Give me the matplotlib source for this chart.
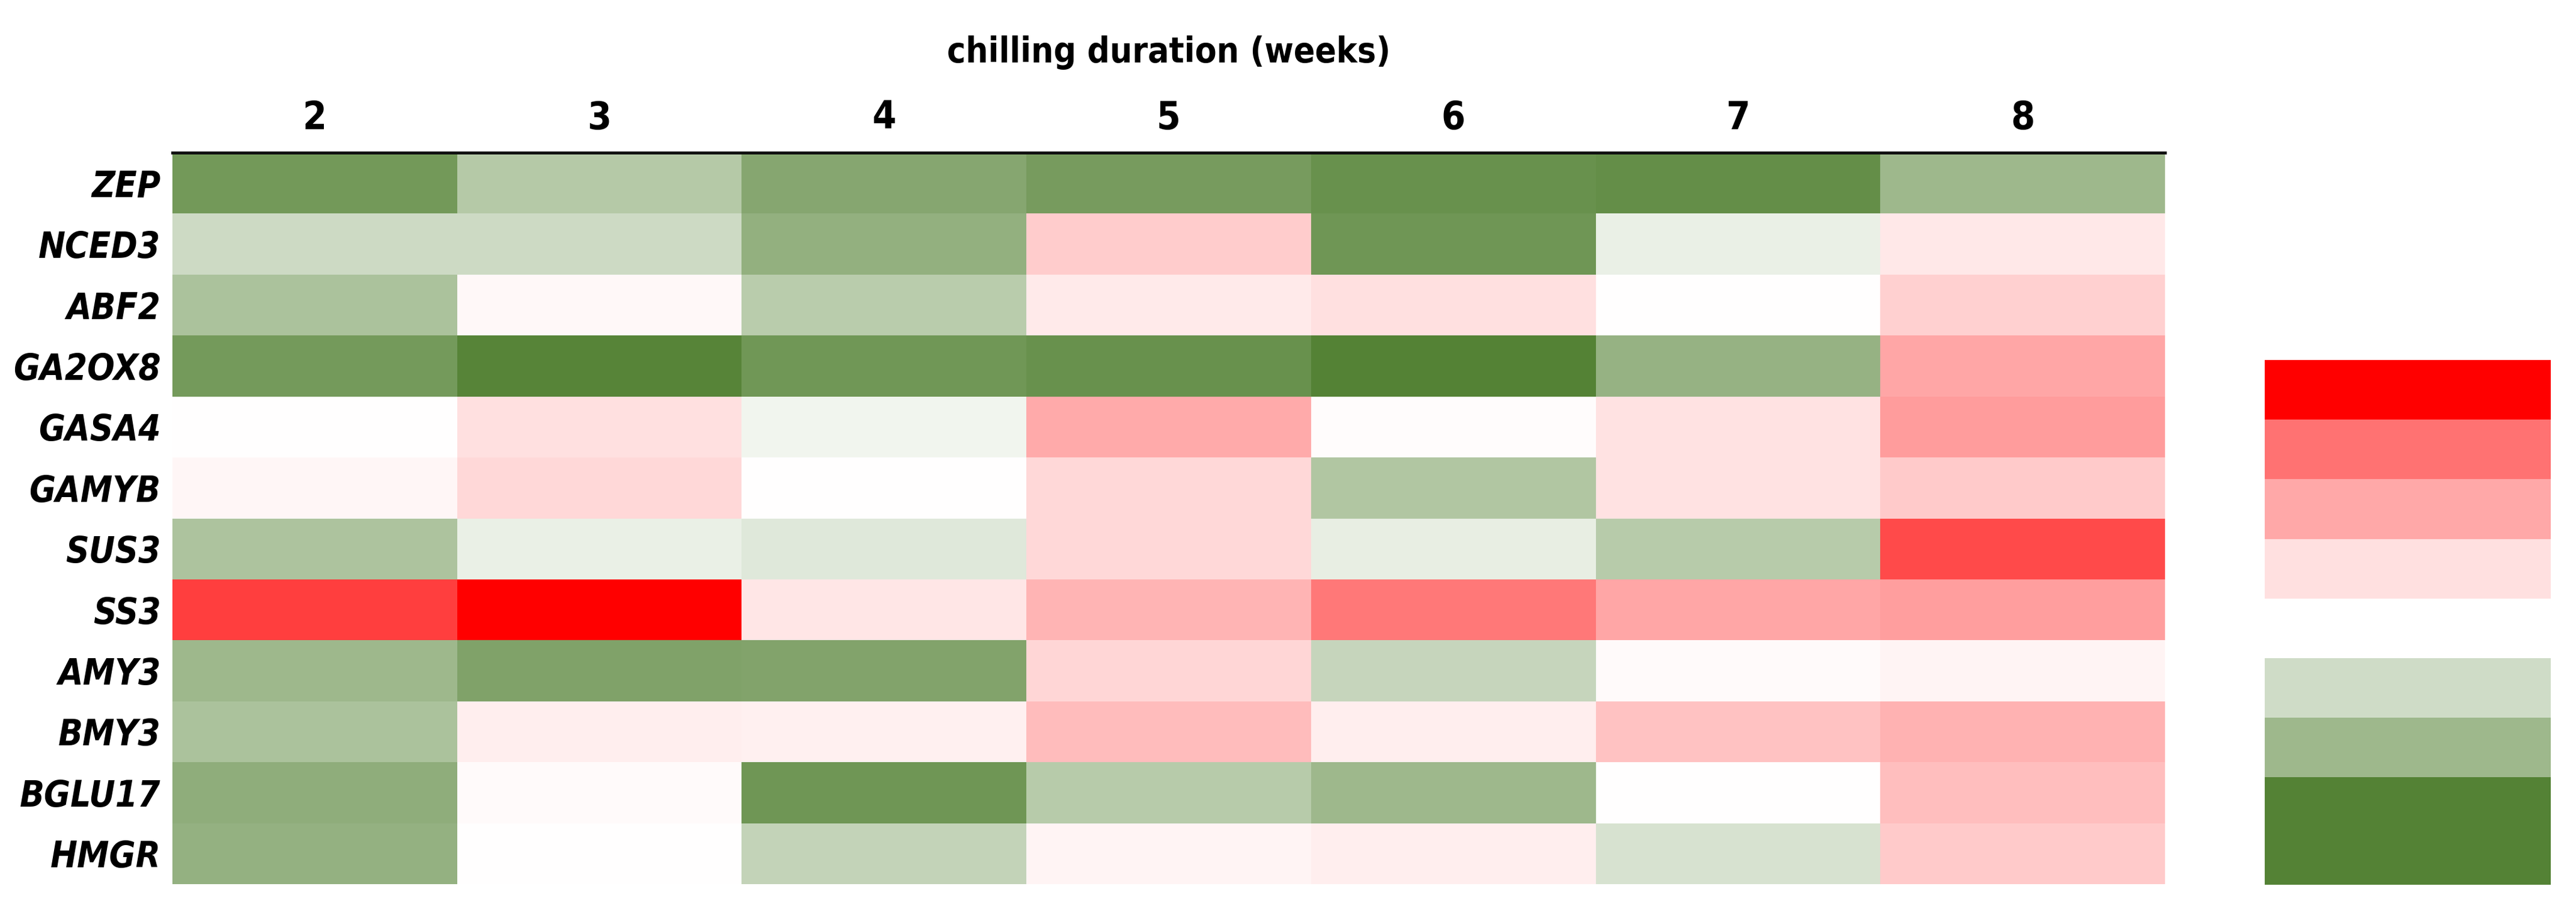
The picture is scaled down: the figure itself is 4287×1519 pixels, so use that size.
import numpy as np
import matplotlib
matplotlib.use("Agg")
import matplotlib.pyplot as plt
from matplotlib.colors import LinearSegmentedColormap

# Relative expression, scaled -1 (dark green) .. +1 (red)
genes = ["ZEP", "NCED3", "ABF2", "GA2OX8", "GASA4", "GAMYB",
         "SUS3", "SS3", "AMY3", "BMY3", "BGLU17", "HMGR"]
weeks = ["2", "3", "4", "5", "6", "7", "8"]

zep    = [-0.82, -0.43, -0.71, -0.79, -0.88, -0.90, -0.57]
nced3  = [-0.29, -0.29, -0.63,  0.20, -0.84, -0.12,  0.09]
abf2   = [-0.49,  0.03, -0.41,  0.08,  0.12,  0.00,  0.18]
ga2ox8 = [-0.81, -0.98, -0.83, -0.88, -1.00, -0.61,  0.35]
gasa4  = [ 0.00,  0.12, -0.08,  0.33,  0.01,  0.11,  0.39]
gamyb  = [ 0.035, 0.15,  0.00,  0.15, -0.46,  0.11,  0.21]
sus3   = [-0.48, -0.12, -0.18,  0.15, -0.14, -0.42,  0.71]
ss3    = [ 0.75,  1.00,  0.10,  0.29,  0.53,  0.35,  0.38]
amy3   = [-0.57, -0.74, -0.73,  0.16, -0.33,  0.02,  0.04]
bmy3   = [-0.49,  0.07,  0.06,  0.26,  0.07,  0.24,  0.30]
bglu17 = [-0.65,  0.02, -0.84, -0.42, -0.57,  0.00,  0.25]
hmgr   = [-0.62,  0.00, -0.35,  0.04,  0.07, -0.23,  0.21]

# colour key blocks, top to bottom (nan = empty slot)
key_values = [1.0, 0.55, 0.34, 0.12, np.nan, -0.28, -0.57, -1.0]

GREEN = "#548235"
RED = "#FF0000"

plt.rcParams["font.family"] = ["DejaVu Sans Condensed", "DejaVu Sans"]
plt.rcParams["font.stretch"] = "condensed"

data = np.array([zep, nced3, abf2, ga2ox8, gasa4, gamyb,
                 sus3, ss3, amy3, bmy3, bglu17, hmgr])
cmap = LinearSegmentedColormap.from_list("gwr", [GREEN, "white", RED])
cmap.set_bad("white")

W, H = 4287, 1519
fig = plt.figure(figsize=(W / 100, H / 100), dpi=100)

# heatmap
ax = fig.add_axes([287 / W, 1 - 1471 / H, (3603 - 287) / W, (1471 - 254) / H])
ax.pcolormesh(data, cmap=cmap, vmin=-1, vmax=1)
ax.set_xlim(0, len(weeks))
ax.set_ylim(len(genes), 0)
for s in ax.spines.values():
    s.set_visible(False)
ax.axhline(0, color="#111111", lw=3.6, clip_on=False)
ax.tick_params(length=0)
ax.xaxis.tick_top()
ax.set_xticks(np.arange(len(weeks)) + 0.5)
ax.set_xticklabels(weeks, fontsize=46, fontweight="bold")
ax.tick_params(axis="x", pad=19)
ax.set_yticks(np.arange(len(genes)) + 0.5)
ax.set_yticklabels(genes, fontsize=43, fontweight="bold", style="italic")
ax.tick_params(axis="y", pad=14)
ax.set_title("chilling duration (weeks)", fontsize=42, fontweight="bold", pad=108)

# colour key
kax = fig.add_axes([3769 / W, 1 - 1472 / H, (4245 - 3769) / W, (1472 - 599) / H])
edges = [0, 1, 2, 3, 4, 5, 6, 7, 8.8]
kax.pcolormesh([0, 1], edges, np.array(key_values).reshape(-1, 1),
               cmap=cmap, vmin=-1, vmax=1)
kax.set_ylim(edges[-1], 0)
kax.set_xlim(0, 1)
kax.axis("off")

fig.savefig("out.png", dpi=100)
